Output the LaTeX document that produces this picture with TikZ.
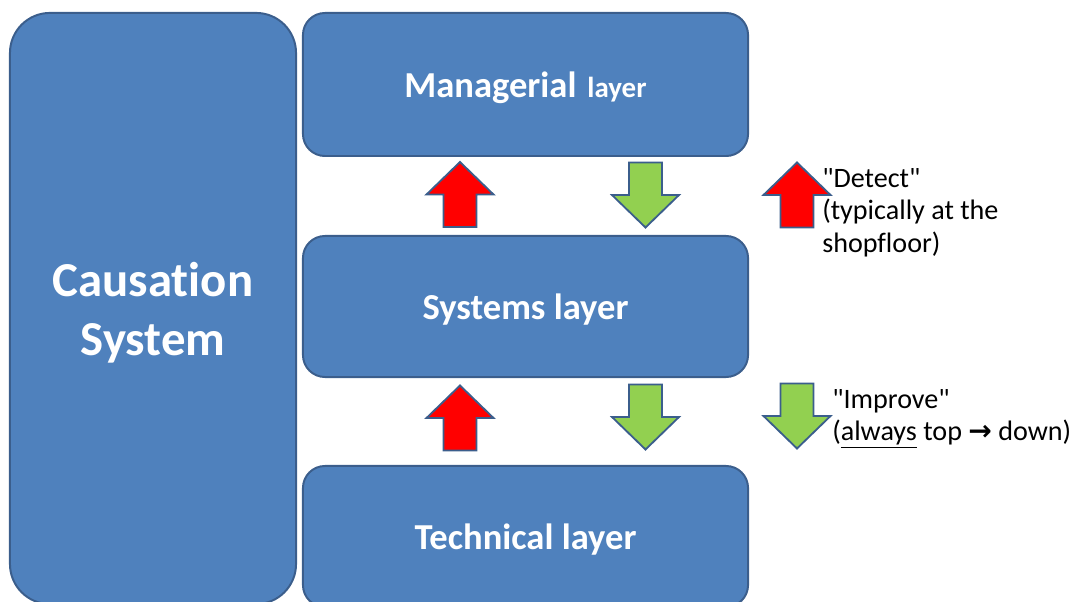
\documentclass[tikz,border=0pt]{standalone}
\usepackage{fontspec}
\setmainfont{Carlito}[Ligatures={TeXOff,CommonOff}]
\newfontfamily\arrowfont{DejaVu Sans}

\definecolor{boxblue}{HTML}{4F81BD}
\definecolor{boxedge}{HTML}{3B5E8C}
\definecolor{detectred}{HTML}{FF0000}
\definecolor{improvegreen}{HTML}{92D050}

\tikzset{
    detectarrow/.pic={
        \draw[draw=boxedge,line width=1.3pt,fill=detectred]
            (-16.5,32.5) -- (-16.5,0) -- (-33.5,0) -- (0,-32.5) -- (33.5,0) -- (16.5,0) -- (16.5,32.5) -- cycle;
    },
    improvearrow/.pic={
        \draw[draw=boxedge,line width=1.3pt,fill=improvegreen]
            (-16.5,-32.5) -- (-16.5,0) -- (-33.5,0) -- (0,32.5) -- (33.5,0) -- (16.5,0) -- (16.5,-32.5) -- cycle;
    }
}

\begin{document}
\begin{tikzpicture}[x=0.025cm,y=-0.025cm]
    \useasboundingbox (0,0) rectangle (1080,602);
    \clip (0,0) rectangle (1080,602);

    \begin{scope}[every node/.style={draw=boxedge,line width=1.4pt,fill=boxblue,text=white,
            text depth=0pt,font=\fontsize{26}{31}\selectfont\bfseries}]
        \node[rounded corners=1cm,minimum width=7.15cm,minimum height=14.775cm,align=center,text depth=-4pt,
            font=\fontsize{34.7}{42}\selectfont\bfseries] (causation) at (153,308.5) {Causation\\System};

        \node[rounded corners=0.55cm,minimum width=11.125cm,minimum height=3.575cm] (managerial) at (525.5,84.5)
            {Managerial\hspace{0.3em}{\fontsize{20.6}{24}\selectfont layer}};
        \node[rounded corners=0.55cm,minimum width=11.125cm,minimum height=3.525cm] (systems) at (525.5,306.5) {Systems layer};
        \node[rounded corners=0.55cm,minimum width=11.125cm,minimum height=3.525cm] (technical) at (525.5,536.5) {Technical layer};
    \end{scope}

    % arrows between the layers
    \pic (up1) at (460,194.5) {detectarrow};
    \pic (down1) at (645.5,195) {improvearrow};
    \pic (up2) at (460,418) {detectarrow};
    \pic (down2) at (645.5,417) {improvearrow};

    % legend
    \pic (detectkey) at (797,195) {detectarrow};
    \pic (improvekey) at (797,416) {improvearrow};

    \begin{scope}[every node/.style={inner sep=0,align=left,anchor=north west,
            font=\fontsize{20}{23.2}\selectfont}]
        \node (detecttext) at (822,168) {"Detect"\\(typically at the\\shopfloor)};
        \node (improvetext) at (832,389) {"Improve"\\(\underline{always} top {\arrowfont\bfseries →} down)};
    \end{scope}
\end{tikzpicture}
\end{document}
